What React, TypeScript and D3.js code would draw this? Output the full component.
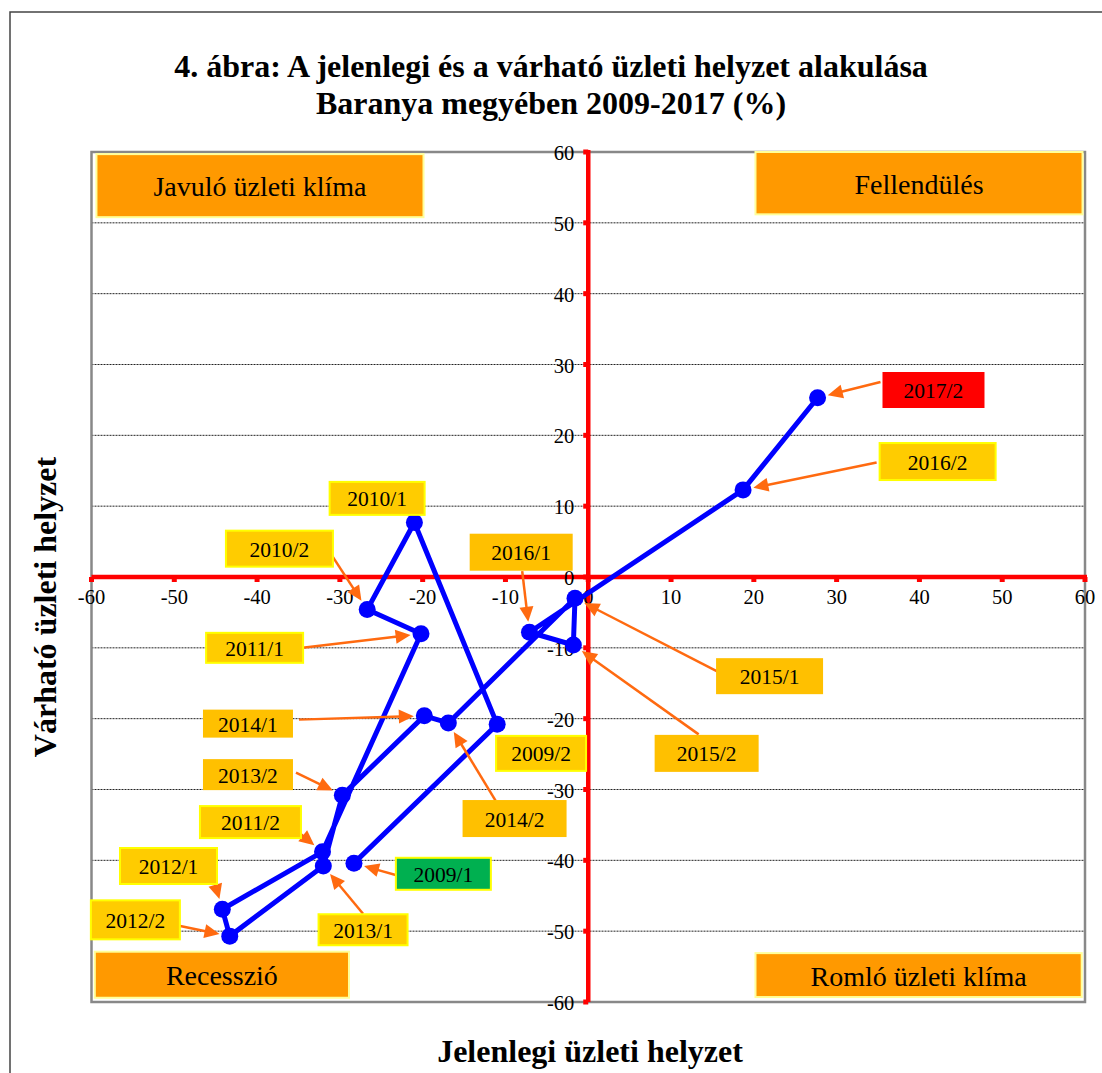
import React from "react";
import * as d3 from "d3";

const periods = ["2009/1","2009/2","2010/1","2010/2","2011/1","2011/2","2012/1","2012/2","2013/1","2013/2","2014/1","2014/2","2015/1","2015/2","2016/1","2016/2","2017/2"];
const currentSituation = [-28.3,-11.0,-21.0,-26.7,-20.2,-32.1,-44.2,-43.3,-32.0,-29.7,-19.8,-16.9,-1.6,-1.8,-7.1,18.7,27.7];
const expectedSituation = [-40.4,-20.8,7.7,-4.6,-8.0,-38.8,-46.9,-50.7,-40.8,-30.8,-19.6,-20.6,-3.0,-9.6,-7.8,12.3,25.3];
const tickValues = [-60,-50,-40,-30,-20,-10,0,10,20,30,40,50,60];

const titleLines = ["4. ábra: A jelenlegi és a várható üzleti helyzet alakulása", "Baranya megyében 2009-2017 (%)"];
const xTitle = "Jelenlegi üzleti helyzet";
const yTitle = "Várható üzleti helyzet";

// quadrant labels: text, x-range, y-range (data units)
const quadrants = [
  { text: "Javuló üzleti klíma", x0: -59.4, x1: -19.9, y0: 50.8, y1: 59.7 },
  { text: "Fellendülés", x0: 20.2, x1: 59.7, y0: 51.2, y1: 60 },
  { text: "Recesszió", x0: -59.6, x1: -28.9, y0: -59.4, y1: -52.9 },
  { text: "Romló üzleti klíma", x0: 20.2, x1: 59.6, y0: -59.3, y1: -53.1 },
];

// annotation layout: box centre (data units), box size, arrow start offset from box centre (px)
const annotations = [
  { p: "2009/1", cx: -17.5, cy: -41.9, w: 95, h: 32, kind: "green", ax: -45, ay: 2 },
  { p: "2009/2", cx: -5.7, cy: -24.9, w: 90, h: 35, kind: "yb", ax: null, ay: null },
  { p: "2010/1", cx: -25.5, cy: 11.1, w: 95, h: 33, kind: "yb", ax: null, ay: null },
  { p: "2010/2", cx: -37.3, cy: 4.0, w: 107, h: 36, kind: "yb", ax: 48, ay: 0 },
  { p: "2011/1", cx: -40.3, cy: -10.0, w: 97, h: 30, kind: "yb", ax: 48, ay: 0 },
  { p: "2011/2", cx: -40.8, cy: -34.6, w: 101, h: 32, kind: "yb", ax: 49, ay: 11 },
  { p: "2012/1", cx: -50.7, cy: -40.8, w: 97, h: 36, kind: "yb", ax: 42, ay: 2 },
  { p: "2012/2", cx: -54.7, cy: -48.4, w: 89, h: 39, kind: "yb", ax: 34, ay: 4 },
  { p: "2013/1", cx: -27.2, cy: -49.8, w: 89, h: 31, kind: "yb", ax: 0, ay: -16 },
  { p: "2013/2", cx: -41.1, cy: -27.9, w: 90, h: 31, kind: "o", ax: 48, ay: -2 },
  { p: "2014/1", cx: -41.1, cy: -20.7, w: 90, h: 28, kind: "o", ax: 51, ay: -4 },
  { p: "2014/2", cx: -8.9, cy: -34.1, w: 104, h: 37, kind: "o", ax: -19, ay: -18 },
  { p: "2015/1", cx: 21.9, cy: -14.0, w: 107, h: 36, kind: "o", ax: -49, ay: -3 },
  { p: "2015/2", cx: 14.3, cy: -24.9, w: 104, h: 37, kind: "o", ax: -8, ay: -19 },
  { p: "2016/1", cx: -8.1, cy: 3.5, w: 103, h: 37, kind: "o", ax: 1, ay: 19 },
  { p: "2016/2", cx: 42.2, cy: 16.3, w: 116, h: 37, kind: "yb", ax: -61, ay: 1 },
  { p: "2017/2", cx: 41.7, cy: 26.4, w: 102, h: 36, kind: "red", ax: -53, ay: -8 },
];

const boxStyle: Record<string, { fill: string; stroke: string }> = {
  yb: { fill: "#FFCC00", stroke: "#FFFF00" },
  o: { fill: "#FFC000", stroke: "none" },
  green: { fill: "#00B050", stroke: "#FFFF00" },
  red: { fill: "#FF0000", stroke: "none" },
};

const W = 1102, H = 1073;
const serif = "Liberation Serif, DejaVu Serif, Times New Roman, serif";
const ts = { fontFamily: serif };

export default function App() {
  const x = d3.scaleLinear().domain([-60, 60]).range([91.5, 1085]);
  const y = d3.scaleLinear().domain([-60, 60]).range([1002, 152]);
  const pts = periods.map((p, i) => ({ p, x: currentSituation[i], y: expectedSituation[i] }));
  const line = d3.line<{ x: number; y: number }>().x(d => x(d.x)).y(d => y(d.y));
  const byP = new Map(pts.map(d => [d.p, d]));
  const r = 8.5;
  const arrowColor = "#FF6A10";

  return (
    <svg width={W} height={H} style={{ position: "absolute", left: 0, top: 0, background: "#fff", fontFamily: serif }}>
      <rect x={10} y={12} width={W + 20} height={H + 20} fill="#fff" stroke="#444" strokeWidth={1.5} />
      {titleLines.map((t, i) => (
        <text key={t} style={ts} x={551} y={77 + i * 37} textAnchor="middle" fontSize={32} fontWeight="bold">{t}</text>
      ))}
      {tickValues.filter(v => v !== 0 && Math.abs(v) !== 60).map(v => (
        <line key={"g" + v} x1={x(-60)} x2={x(60)} y1={y(v)} y2={y(v)} stroke="#222" strokeWidth={1} strokeDasharray="2,1" />
      ))}
      <rect x={x(-60)} y={y(60)} width={x(60) - x(-60)} height={y(-60) - y(60)} fill="none" stroke="#888" strokeWidth={2.5} />
      {quadrants.map(q => {
        const bx = x(q.x0), bw = x(q.x1) - x(q.x0), by = y(q.y1), bh = y(q.y0) - y(q.y1);
        return (
          <g key={q.text}>
            <rect x={bx} y={by} width={bw} height={bh} fill="#FF9900" stroke="#FFFF99" strokeWidth={2} />
            <text style={ts} x={bx + bw / 2} y={by + bh / 2 + 1} textAnchor="middle" dominantBaseline="central" fontSize={28}>{q.text}</text>
          </g>
        );
      })}
      <line x1={x(-60)} x2={x(60) + 2} y1={y(0)} y2={y(0)} stroke="#FF0000" strokeWidth={4.5} />
      <line x1={x(0)} x2={x(0)} y1={y(60) - 2} y2={y(-60)} stroke="#FF0000" strokeWidth={4.5} />
      {tickValues.map(v => (
        <g key={"t" + v}>
          <rect x={x(v) - 2.5} y={y(0)} width={5} height={5} fill="#FF0000" />
          <rect x={x(0) - 5} y={y(v) - 2.5} width={5} height={5} fill="#FF0000" />
          <text style={ts} x={x(v)} y={y(0) + 27} textAnchor="middle" fontSize={20.5}>{v}</text>
          <text style={ts} x={x(0) - 14} y={y(v) + 1} textAnchor="end" dominantBaseline="central" fontSize={20.5}>{v}</text>
        </g>
      ))}
      <path d={line(pts) || ""} fill="none" stroke="#0000FF" strokeWidth={5} strokeLinejoin="round" />
      {pts.map(d => <circle key={d.p} cx={x(d.x)} cy={y(d.y)} r={r} fill="#0000FF" />)}
      {annotations.map(a => {
        const bx = x(a.cx), by = y(a.cy);
        const st = boxStyle[a.kind];
        let arrow = null;
        if (a.ax !== null && a.ay !== null) {
          const pt = byP.get(a.p)!;
          const sx = bx + a.ax, sy = by + a.ay;
          const tx = x(pt.x), ty = y(pt.y);
          const dx = tx - sx, dy = ty - sy;
          const len = Math.hypot(dx, dy);
          const ux = dx / len, uy = dy / len;
          const ex = tx - ux * (r + 2), ey = ty - uy * (r + 2);
          const hl = 15, hw = 7;
          const bxh = ex - ux * hl, byh = ey - uy * hl;
          const poly = `${ex},${ey} ${bxh - uy * hw},${byh + ux * hw} ${bxh + uy * hw},${byh - ux * hw}`;
          arrow = (
            <g>
              <line x1={sx} y1={sy} x2={bxh + ux * 2} y2={byh + uy * 2} stroke={arrowColor} strokeWidth={2.5} />
              <polygon points={poly} fill={arrowColor} />
            </g>
          );
        }
        return (
          <g key={"a" + a.p}>
            {arrow}
            <rect x={bx - a.w / 2} y={by - a.h / 2} width={a.w} height={a.h} fill={st.fill} stroke={st.stroke} strokeWidth={2} />
            <text style={ts} x={bx} y={by + 1} textAnchor="middle" dominantBaseline="central" fontSize={21.5}>{a.p}</text>
          </g>
        );
      })}
      <text style={ts} x={590} y={1062} textAnchor="middle" fontSize={32} fontWeight="bold">{xTitle}</text>
      <text style={ts} transform="translate(45,607) rotate(-90)" textAnchor="middle" dominantBaseline="central" fontSize={32} fontWeight="bold">{yTitle}</text>
    </svg>
  );
}
